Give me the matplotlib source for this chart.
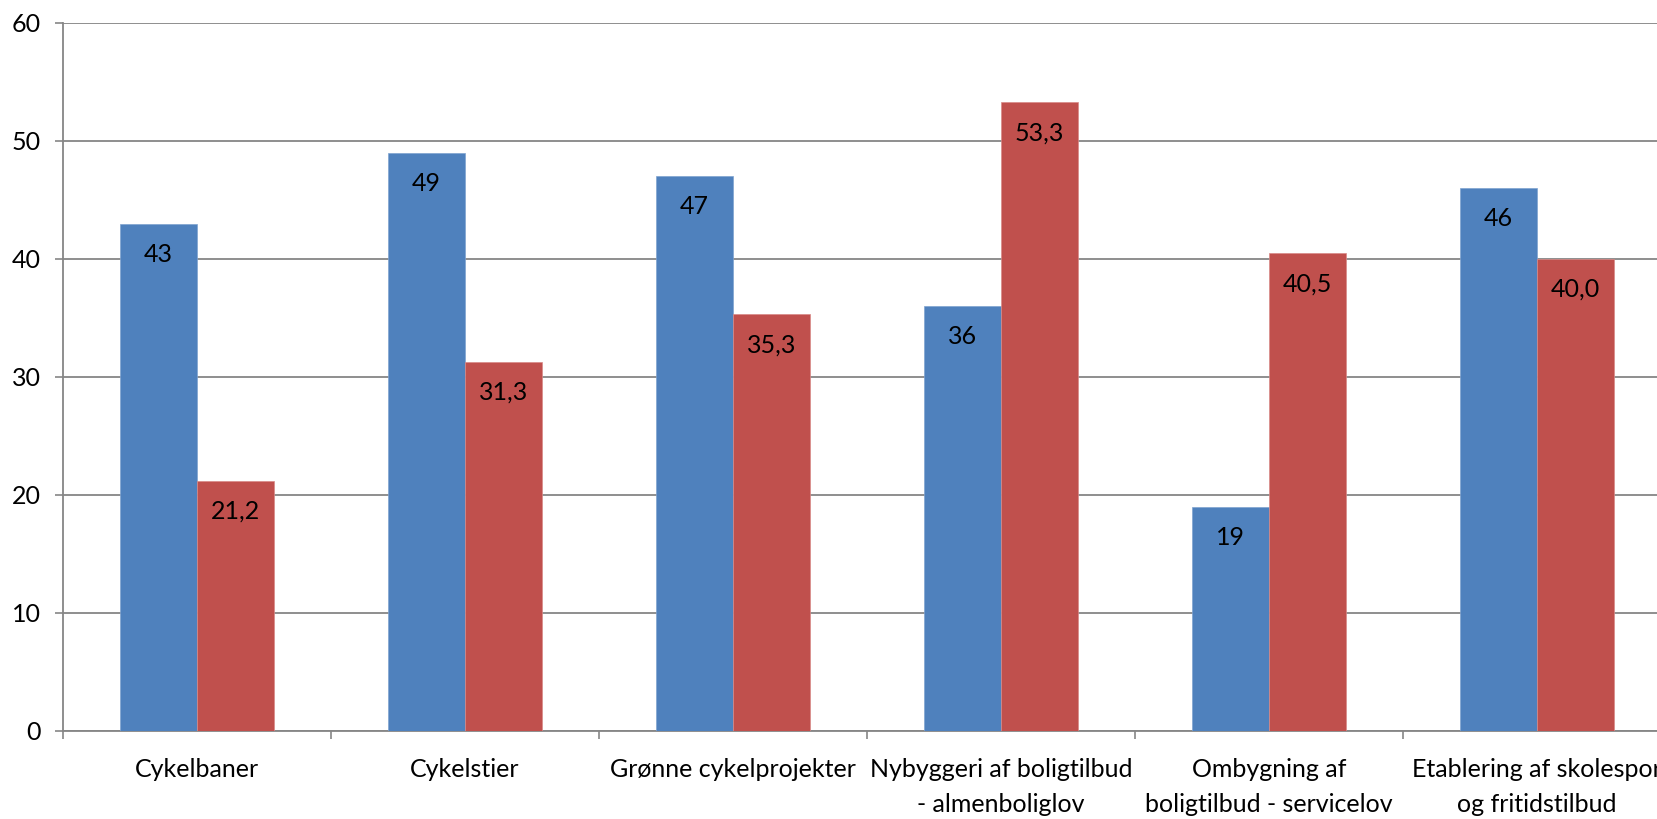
import matplotlib
matplotlib.use("Agg")
import matplotlib.pyplot as plt
import numpy as np

categories = ["Cykelbaner", "Cykelstier", "Grønne cykelprojekter",
              "Nybyggeri af boligtilbud\n- almenboliglov",
              "Ombygning af\nboligtilbud - servicelov",
              "Etablering af skolespor\nog fritidstilbud"]
blue_values = [43, 49, 47, 36, 19, 46]
red_values = [21.2, 31.3, 35.3, 53.3, 40.5, 40.0]
blue_labels = ["43", "49", "47", "36", "19", "46"]
red_labels = ["21,2", "31,3", "35,3", "53,3", "40,5", "40,0"]
y_ticks = [0, 10, 20, 30, 40, 50, 60]

plt.rcParams['font.family'] = ['Lato', 'DejaVu Sans']
FS = 18

W, H = 1658, 819
fig = plt.figure(figsize=(W/100, H/100), dpi=100)
left_px, axis_y0, axis_y60 = 63, 731, 23
cat_w = 268
ax = fig.add_axes([left_px/W, (H-axis_y0)/H, 6*cat_w/W, (axis_y0-axis_y60)/H])

x = np.arange(len(categories)) + 0.5
bw = 77/cat_w
gray = "#868686"
b1 = ax.bar(x - bw/2, blue_values, width=bw, color="#4F81BD", zorder=3,
            edgecolor="#7FA3D0", linewidth=0.5)
b2 = ax.bar(x + bw/2, red_values, width=bw, color="#C0504D", zorder=3,
            edgecolor="#D88A88", linewidth=0.5)

for rect, lab in zip(b1, blue_labels):
    ax.annotate(lab, (rect.get_x()+rect.get_width()/2, rect.get_height()),
                xytext=(0, -22), textcoords="offset points", ha="center",
                va="center", fontsize=FS, color="black", zorder=4)
for rect, lab in zip(b2, red_labels):
    ax.annotate(lab, (rect.get_x()+rect.get_width()/2, rect.get_height()),
                xytext=(0, -22), textcoords="offset points", ha="center",
                va="center", fontsize=FS, color="black", zorder=4)

ax.set_xlim(0, 6)
ax.set_ylim(0, 60)
ax.set_yticks(y_ticks)
ax.set_yticklabels([str(v) for v in y_ticks])
ax.set_xticks(np.arange(0, 7))
ax.set_xticklabels([])
ax.set_xticks(x, minor=True)
ax.set_xticklabels(categories, minor=True, fontsize=FS, linespacing=1.62)
ax.tick_params(axis="x", which="minor", length=0, pad=19.5)
ax.tick_params(axis="x", which="major", length=6, width=1.2, color=gray, direction="out")
ax.tick_params(axis="y", length=6, width=1.2, color=gray, labelsize=FS, pad=10)

ax.yaxis.grid(True, color=gray, linewidth=1.3, zorder=0)
ax.set_axisbelow(True)
for s in ["top", "right"]:
    ax.spines[s].set_visible(False)
for s in ["left", "bottom"]:
    ax.spines[s].set_color(gray)
    ax.spines[s].set_linewidth(1.3)

fig.savefig("out.png", dpi=100)
